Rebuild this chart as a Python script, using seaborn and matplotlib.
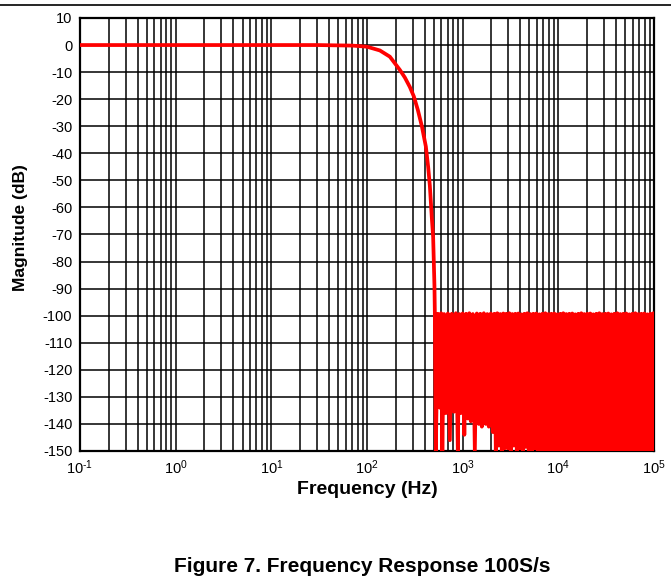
import numpy as np
import pandas as pd
import matplotlib
matplotlib.use("Agg")
import matplotlib.pyplot as plt
from matplotlib.lines import Line2D
import seaborn as sns

# passband and roll-off
passband_hz = [0.1, 1, 10, 30, 50, 70, 85, 99.8, 136.4, 173.5, 220.8, 248.9, 280.7,
               309.1, 340.3, 374.8, 412.6, 436.1, 454.3, 465.4, 476.7, 491.8, 500.2,
               507.5, 512.3]
passband_db = [0, 0, 0, 0, -0.1, -0.2, -0.4, -0.6, -2.0, -4.3, -9.2, -12.0, -15.5,
               -19.0, -24.0, -30.0, -37.5, -45.0, -52.0, -58.0, -64.0, -71.0, -80.0,
               -89.0, -99.0]

# stopband ripple: alternating notches and lobe peaks
noise_hz = [524.8, 550.6, 577.8, 595.4, 613.6, 640.0, 667.5, 700.4, 734.9, 771.2,
            809.2, 849.1, 891.0, 923.7, 957.6, 998.8, 1041.8, 1086.6, 1133.4, 1174.9,
            1218.1, 1278.1, 1341.1, 1407.3, 1476.7, 1530.9, 1587.2, 1665.4, 1747.6,
            1811.8, 1878.3, 1970.9, 2068.1, 2144.1, 2222.9, 2304.5, 2389.2, 2476.9,
            2567.9, 2662.5, 2760.2,
            2862, 2968, 3076, 3189, 3306, 3428, 3553, 3684, 3819, 3960, 4105, 4256,
            4412, 4575, 4743, 4917, 5098, 5285, 5480, 5681, 5890, 6106, 6331, 6563,
            6805, 7055, 7314, 7583, 7862, 8151, 8450, 8761, 9083, 9416, 9763, 10120,
            10493, 10878, 11278, 11693, 12123, 12569, 13031, 13510, 14007, 14521,
            15055, 15609, 16183, 16778, 17395, 18034, 18697, 19385, 20097, 20836,
            21602, 22397, 23220, 24074, 24959, 25877, 26828, 27815, 28837, 29898,
            30997, 32137, 33318, 34544, 35814, 37130, 38495, 39911, 41378, 42899,
            44477, 46112, 47807, 49565, 51387, 53277, 55236, 57266, 59372, 61555,
            63818, 66164, 68597, 71119, 73734, 76445, 79255, 82169, 85190, 88322,
            91570, 94937, 98427, 100000]
noise_db = [-150, -99.3, -134, -99.1, -150, -99.4, -136, -99.2, -146, -99.3,
            -135.5, -99.1, -150, -99.4, -136, -99.2, -144, -99.3, -138, -99.1,
            -139, -99.4, -150, -99.2, -140, -99.3, -141, -99.1, -140,
            -99.4, -141, -99.2, -143, -99.3, -150, -99.1, -148, -99.4,
            -150, -99.2, -149,
            -99.3, -149, -99.1, -150, -99.4, -148, -99.3, -150, -99.2, -149, -99.5,
            -150, -99.3, -148.5, -99.1, -150, -99.4, -150, -99.3, -149, -99.2, -150,
            -99.5, -150, -99.3, -150, -99.1, -150, -99.4, -150, -99.3, -150, -99.2,
            -150, -99.5, -150, -99.3, -150, -99.1, -150, -99.4, -150, -99.3, -150,
            -99.2, -150, -99.5, -150, -99.3, -150, -99.1, -150, -99.4, -150, -99.3,
            -150, -99.2, -150, -99.5, -150, -99.3, -150, -99.1, -150, -99.4, -150,
            -99.3, -150, -99.2, -150, -99.5, -150, -99.3, -150, -99.1, -150, -99.4,
            -150, -99.3, -150, -99.2, -150, -99.5, -150, -99.3, -150, -99.1, -150,
            -99.4, -150, -99.3, -150, -99.2, -150, -99.5, -150, -99.3, -150, -99.1,
            -150]

x_ticks = [0.1, 1, 10, 100, 1000, 10000, 100000]
x_tick_labels = [r"$10^{\text{-}1}$", r"$10^{0}$", r"$10^{1}$", r"$10^{2}$",
                 r"$10^{3}$", r"$10^{4}$", r"$10^{5}$"]
y_ticks = list(range(-150, 11, 10))

df = pd.DataFrame({
    "freq": passband_hz + noise_hz,
    "db": passband_db + noise_db,
})

sns.set_theme(style="white")
plt.rcParams["font.family"] = ["Liberation Sans", "DejaVu Sans"]
plt.rcParams["mathtext.fontset"] = "custom"
plt.rcParams["mathtext.rm"] = "Liberation Sans"
plt.rcParams["mathtext.it"] = "Liberation Sans:italic"
plt.rcParams["mathtext.bf"] = "Liberation Sans:bold"
plt.rcParams["axes.unicode_minus"] = False
plt.rcParams["text.color"] = "black"
plt.rcParams["axes.labelcolor"] = "black"

fig = plt.figure(figsize=(6.71, 5.82), dpi=100)
ax = fig.add_axes([0.1192, 0.2251, 0.8554, 0.744])

sns.lineplot(data=df, x="freq", y="db", color="#ff0000", linewidth=2.7,
             estimator=None, sort=False, ax=ax, zorder=3)

ax.set_xscale("log")
ax.set_xlim(0.1, 1e5)
ax.set_ylim(-150, 10)
ax.set_xticks(x_ticks)
ax.set_xticklabels(x_tick_labels)
ax.set_yticks(y_ticks)
ax.set_yticklabels([str(v) for v in y_ticks])
ax.xaxis.set_minor_locator(matplotlib.ticker.LogLocator(base=10, subs=np.arange(2, 10)))
ax.xaxis.set_minor_formatter(matplotlib.ticker.NullFormatter())

ax.set_axisbelow(True)
ax.grid(which="major", axis="both", color="black", linewidth=1.1)
ax.grid(which="minor", axis="x", color="black", linewidth=1.1)

for sp in ax.spines.values():
    sp.set_color("black")
    sp.set_linewidth(1.6)

ax.tick_params(axis="both", which="both", length=0, labelsize=10.5,
               colors="black", labelcolor="black")
ax.tick_params(axis="y", pad=5.5)
ax.tick_params(axis="x", pad=5)

ax.set_xlabel("Frequency (Hz)", fontsize=14, fontweight="bold", color="black")
ax.set_ylabel("Magnitude (dB)", fontsize=12.5, fontweight="bold", color="black")
ax.xaxis.set_label_coords(0.5, -0.089)
ax.xaxis.label.set_verticalalignment("center")
ax.yaxis.set_label_coords(-0.103, 0.515)
ax.yaxis.label.set_verticalalignment("center")

fig.add_artist(Line2D([0, 1], [1 - 5 / 582, 1 - 5 / 582], color="black",
                      linewidth=1.2, transform=fig.transFigure))
fig.text(362 / 671, 1 - 567 / 582, "Figure 7. Frequency Response 100S/s",
         ha="center", va="center", fontsize=15, fontweight="bold", color="black")

fig.savefig("out.png", dpi=100)
